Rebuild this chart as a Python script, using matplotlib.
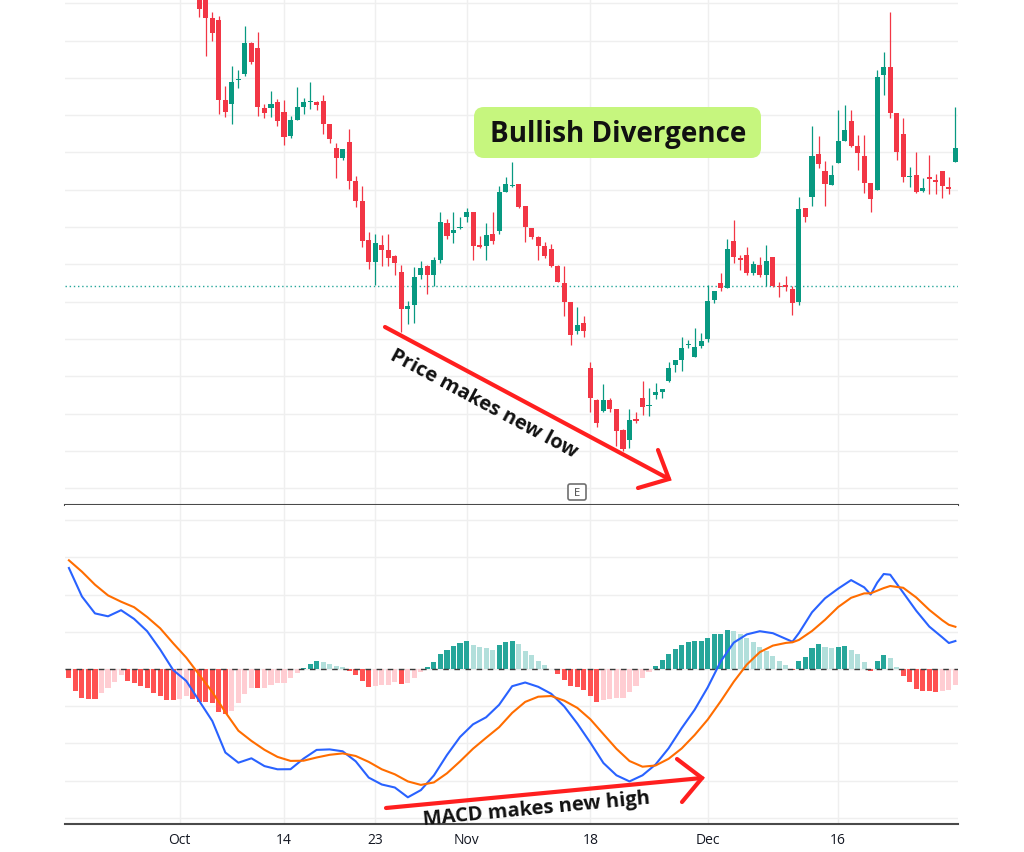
import numpy as np
import matplotlib.pyplot as plt
from matplotlib.patches import FancyBboxPatch

plt.rcParams['font.family'] = ['Open Sans', 'DejaVu Sans']

# ---- price candles (bar index 20 .. 136) ----
candle_start = 20
opens = [52.5, 52.2, 50.1, 49.9, 41.9, 41.5, 43.9, 44.5, 47.6, 47.1,
         41.1, 41.1, 41.7, 40.7, 38.3, 39.9, 41.2, 41.7, 41.7, 41.8,
         39.5, 37.1, 36.1, 37.7, 33.8, 31.8, 27.9, 25.7, 27.4, 26.9,
         26.3, 24.7, 21.0, 21.4, 24.4, 25.3, 24.4, 25.9, 29.6, 28.6,
         29.1, 30.2, 30.7, 27.4, 27.3, 28.5, 28.8, 32.7, 33.3, 33.5,
         31.3, 29.1, 28.2, 27.3, 27.0, 25.3, 23.6, 21.7, 18.8, 19.6,
         15.1, 11.9, 10.8, 11.9, 11.0, 8.9, 7.9, 10.0, 12.1, 11.3,
         12.4, 12.7, 13.8, 15.4, 15.9, 17.4, 16.2, 17.3, 18.0, 21.9,
         23.6, 23.1, 27.8, 26.1, 26.4, 24.6, 25.4, 24.4, 26.2, 23.3,
         23.4, 23.0, 21.7, 31.1, 32.2, 36.5, 34.8, 33.4, 35.6, 37.8,
         39.8, 37.3, 36.3, 33.6, 32.9, 44.4, 45.2, 40.6, 38.5, 34.2,
         34.4, 32.8, 34.2, 33.9, 34.8, 33.2, 35.7]
closes = [51.0, 50.1, 48.6, 41.9, 40.7, 43.7, 44.0, 47.6, 45.7, 41.2,
          40.6, 41.5, 39.8, 38.2, 39.9, 41.2, 41.7, 41.8, 41.4, 39.5,
          38.0, 36.1, 37.0, 33.8, 31.8, 27.8, 25.7, 27.6, 26.9, 26.1,
          25.6, 21.0, 21.3, 24.2, 25.1, 24.4, 25.9, 29.7, 28.3, 28.9,
          29.2, 30.7, 27.3, 27.2, 28.4, 27.8, 32.7, 33.5, 33.4, 31.2,
          29.2, 28.2, 27.3, 26.3, 25.3, 23.7, 21.7, 18.4, 19.4, 18.8,
          12.1, 9.6, 11.9, 11.0, 8.8, 7.0, 9.9, 9.8, 11.2, 11.4,
          12.7, 13.0, 15.1, 15.9, 17.1, 17.5, 17.2, 17.8, 21.8, 22.8,
          23.1, 27.0, 26.2, 25.9, 24.6, 25.5, 24.4, 25.8, 23.3, 23.2,
          23.2, 21.6, 31.0, 30.2, 36.3, 35.5, 33.5, 34.4, 37.8, 38.9,
          37.3, 36.6, 33.6, 32.0, 44.2, 45.2, 40.6, 36.7, 34.2, 34.3,
          32.7, 33.1, 34.0, 33.7, 33.3, 33.0, 37.1]
highs = [53.0, 52.5, 50.7, 50.3, 43.3, 45.3, 44.9, 49.3, 47.7, 48.7,
         41.5, 42.8, 42.0, 41.9, 40.3, 43.2, 42.1, 43.7, 41.8, 42.4,
         39.5, 37.6, 37.0, 39.0, 34.3, 33.3, 28.7, 28.5, 28.4, 28.5,
         26.4, 25.4, 21.8, 25.2, 25.8, 25.4, 26.2, 30.7, 30.0, 30.7,
         30.2, 31.1, 30.7, 28.3, 29.6, 30.7, 33.3, 34.2, 35.7, 33.5,
         31.3, 29.1, 28.3, 27.7, 27.5, 25.4, 25.3, 21.7, 21.2, 20.3,
         15.7, 12.0, 13.5, 12.1, 11.0, 9.0, 11.0, 10.7, 13.8, 13.1,
         13.6, 13.0, 15.7, 15.9, 18.2, 17.9, 19.1, 18.6, 23.4, 22.8,
         24.6, 28.0, 29.9, 26.4, 27.2, 25.8, 26.2, 27.4, 26.2, 23.7,
         24.3, 23.3, 32.2, 31.1, 39.3, 38.3, 35.8, 35.4, 40.9, 41.4,
         40.9, 38.4, 38.4, 33.6, 44.9, 46.7, 50.7, 40.6, 40.1, 35.2,
         36.7, 34.1, 36.4, 34.5, 34.8, 34.2, 41.2]
lows = [50.2, 46.3, 47.8, 40.5, 40.2, 39.5, 43.1, 44.3, 45.5, 40.3,
        40.1, 40.2, 39.3, 37.4, 38.1, 39.9, 40.5, 41.0, 40.9, 38.5,
        37.6, 34.1, 35.9, 33.0, 31.2, 27.2, 25.0, 23.4, 25.3, 25.3,
        24.4, 18.7, 19.5, 19.6, 24.0, 22.5, 23.3, 25.6, 28.0, 27.6,
        29.0, 29.7, 25.9, 27.1, 25.9, 27.5, 28.5, 32.7, 33.2, 31.1,
        27.7, 28.0, 25.9, 26.1, 25.2, 23.7, 20.3, 17.4, 18.5, 18.2,
        10.7, 9.2, 10.7, 10.7, 7.3, 6.8, 7.1, 9.6, 10.4, 10.3,
        12.0, 12.1, 13.7, 14.7, 14.8, 17.1, 16.2, 17.1, 17.7, 21.6,
        22.8, 23.1, 25.6, 24.9, 24.4, 24.4, 24.2, 23.3, 23.2, 22.2,
        22.8, 20.4, 21.4, 29.7, 31.3, 35.1, 31.3, 33.4, 35.6, 37.8,
        37.2, 34.9, 32.6, 30.7, 32.9, 42.4, 40.1, 35.9, 33.7, 33.2,
        32.6, 32.7, 32.5, 32.5, 32.1, 32.5, 35.7]
last_price_line = 23.35

# ---- MACD (bar index 0 .. 136) ----
hist = [-9.3, -22.3, -29.3, -30.3, -30.3, -24, -19, -12.7, -6, -11.7,
        -14, -16.7, -19.3, -24, -27.3, -30.7, -30.7, -30.4, -26.7, -30,
        -32.7, -33.3, -34.3, -42.7, -45, -41.7, -34.3, -25, -19.3, -19.3,
        -19, -15.7, -14, -13.8, -9.3, -4.3, 1, 5, 7.7, 7.3,
        5, 2.7, 1.7, -1.7, -5.7, -12.3, -17.7, -17.3, -15.7, -15.5,
        -13.3, -15, -14, -9, -3.3, 1.7, 6.7, 15, 19.3, 22.7,
        26, 27.7, 24, 21.7, 21, 19.3, 24, 27.3, 28.3, 25,
        18.3, 14, 8.3, 4, 0.3, -5, -10.7, -16.7, -18.3, -21,
        -26.7, -32.7, -31, -30, -29.3, -29, -23.3, -17.3, -9.3, -3,
        3, 9, 15, 20, 24.5, 27, 28, 28, 31.5, 35.5,
        35.5, 39, 38, 35.5, 31.5, 27, 22, 18, 13, 8,
        4, -0.8, 8, 12, 20.7, 24.7, 22, 20.7, 22, 23,
        19.5, 14.8, 6.7, -1.7, 8.2, 14.3, 11.3, 2.3, -6.7, -12.7,
        -20.3, -22, -22.2, -22.5, -21.8, -21, -16]
hist = [h / 100 for h in hist]

line_idx = list(range(0, 111, 2)) + [111, 112, 114, 116, 118, 120, 122, 123,
                                      124, 125, 126, 128, 130, 132, 134, 135, 136]
macd = [1.01, 0.725, 0.556, 0.527, 0.588, 0.501, 0.378, 0.195, -0.011, -0.119,
        -0.32, -0.52, -0.835, -0.937, -0.893, -0.971, -1.003, -1.002, -0.896, -0.809,
        -0.804, -0.823, -0.923, -1.086, -1.155, -1.185, -1.283, -1.211, -1.064, -0.86,
        -0.68, -0.553, -0.483, -0.358, -0.172, -0.135, -0.178, -0.248, -0.375, -0.546,
        -0.737, -0.94, -1.063, -1.124, -1.063, -0.955, -0.793, -0.592, -0.407, -0.184,
        0.076, 0.264, 0.346, 0.378, 0.358, 0.301,
        0.273, 0.36, 0.567, 0.707, 0.803, 0.889, 0.817, 0.745, 0.863, 0.95,
        0.943, 0.763, 0.582, 0.424, 0.316, 0.26, 0.28]
signal = [1.087, 0.973, 0.843, 0.736, 0.673, 0.618, 0.52, 0.407, 0.257, 0.114,
          -0.058, -0.23, -0.432, -0.617, -0.719, -0.808, -0.879, -0.919, -0.917, -0.885,
          -0.858, -0.844, -0.87, -0.929, -1.003, -1.053, -1.124, -1.159, -1.134, -1.043,
          -0.924, -0.797, -0.688, -0.582, -0.439, -0.329, -0.277, -0.27, -0.317, -0.389,
          -0.503, -0.651, -0.798, -0.92, -0.977, -0.965, -0.898, -0.795, -0.66, -0.506,
          -0.322, -0.127, 0.044, 0.169, 0.234, 0.261,
          0.267, 0.291, 0.38, 0.492, 0.619, 0.712, 0.756, 0.757, 0.783, 0.809,
          0.83, 0.812, 0.715, 0.591, 0.487, 0.442, 0.422]

tick_idx = [17, 33, 47, 61, 80, 98, 118]
tick_labels = ['Oct', '14', '23', 'Nov', '18', 'Dec', '16']

up, down = '#089981', '#f23645'
grid_c = '#efefef'

fig = plt.figure(figsize=(10.24, 8.53), dpi=100)
ax1 = fig.add_axes([65/1024, 1 - 506/853, 893/1024, 506/853])
ax2 = fig.add_axes([65/1024, 28/853, 893/1024, 319/853])

# candles
cx = np.arange(candle_start, candle_start + len(opens))
o, c, h, l = map(np.array, (opens, closes, highs, lows))
cols = np.where(c >= o, up, down)
ax1.vlines(cx, l, h, colors=cols, lw=0.9, zorder=3)
body = np.maximum(np.abs(c - o), 0.15)
ax1.bar(cx, body, bottom=np.minimum(o, c), width=0.78, color=cols, zorder=4)
ax1.axhline(last_price_line, color='#26a69a', lw=1, ls=(0, (1, 2)), zorder=2)

ax1.set_xlim(-0.6, 136.4)
ax1.set_ylim(1.4, 52.0)
ax1.set_yticks(np.arange(51.57, 1.4, -3.73))
ax1.set_xticks(tick_idx)
ax1.tick_params(length=0, labelbottom=False, labelleft=False)
ax1.grid(color=grid_c, lw=1, zorder=0)
for s in ['top', 'left', 'right']:
    ax1.spines[s].set_visible(False)
ax1.spines['bottom'].set_color('#4a4a4a')
ax1.spines['bottom'].set_linewidth(1.5)

# MACD histogram, colours by direction
hcols = []
for i, v in enumerate(hist):
    prev = hist[i - 1] if i > 0 else v
    if v >= 0:
        hcols.append('#26a69a' if v >= prev else '#b2dfdb')
    else:
        hcols.append('#ff5252' if v <= prev else '#ffcdd2')
ax2.bar(np.arange(len(hist)), hist, width=0.78, color=hcols, zorder=2)
ax2.axhline(0, color='#3a3a3a', lw=1, dashes=(4, 4), zorder=3)
ax2.plot(line_idx, macd, color='#2962ff', lw=1.5, zorder=4)
ax2.plot(line_idx, signal, color='#ff6d00', lw=1.5, zorder=4)

ax2.set_xlim(-0.6, 136.4)
ax2.set_ylim(-1.55, 1.64)
ax2.set_yticks(np.arange(-4, 5) * 0.372)
ax2.set_xticks(tick_idx)
ax2.set_xticklabels(tick_labels, fontsize=10, color='#131722')
ax2.tick_params(length=0, labelleft=False, pad=6)
ax2.grid(color=grid_c, lw=1, zorder=0)
for s in ['top', 'left', 'right']:
    ax2.spines[s].set_visible(False)
ax2.spines['bottom'].set_color('#4a4a4a')
ax2.spines['bottom'].set_linewidth(1.5)

# annotation layer in pixel units
ov = fig.add_axes([0, 0, 1, 1])
ov.set_xlim(0, 1024)
ov.set_ylim(853, 0)
ov.axis('off')

ov.add_patch(FancyBboxPatch((474, 108), 287, 51, boxstyle='round,pad=0,rounding_size=10',
                            fc='#c6f67e', ec='none'))
ov.text(618, 134, 'Bullish Divergence', fontsize=20, fontweight='bold',
        ha='center', va='center', color='#111111')

red = '#ff1f1f'
ov.plot([385, 669], [328, 480], color=red, lw=3, solid_capstyle='round')
ov.plot([658, 669, 638], [451, 480, 489], color=red, lw=3, solid_capstyle='round',
        solid_joinstyle='miter')
ov.text(484, 404, 'Price makes new low', fontsize=14.5, fontweight='bold', rotation=-28.2,
        rotation_mode='anchor', ha='center', va='center', color='#111111')

ov.plot([386, 702], [809, 779], color=red, lw=3, solid_capstyle='round')
ov.plot([677, 702, 682], [760, 779, 803], color=red, lw=3, solid_capstyle='round',
        solid_joinstyle='miter')
ov.text(537, 809, 'MACD makes new high', fontsize=14.5, fontweight='bold', rotation=5.4,
        rotation_mode='anchor', ha='center', va='center', color='#111111')

ov.add_patch(FancyBboxPatch((568, 485), 18, 16, boxstyle='round,pad=0,rounding_size=2',
                            fc='white', ec='#707070', lw=1.2))
ov.text(577, 493.5, 'E', fontsize=8, ha='center', va='center', color='#444444')

fig.savefig('out.png', dpi=100)
